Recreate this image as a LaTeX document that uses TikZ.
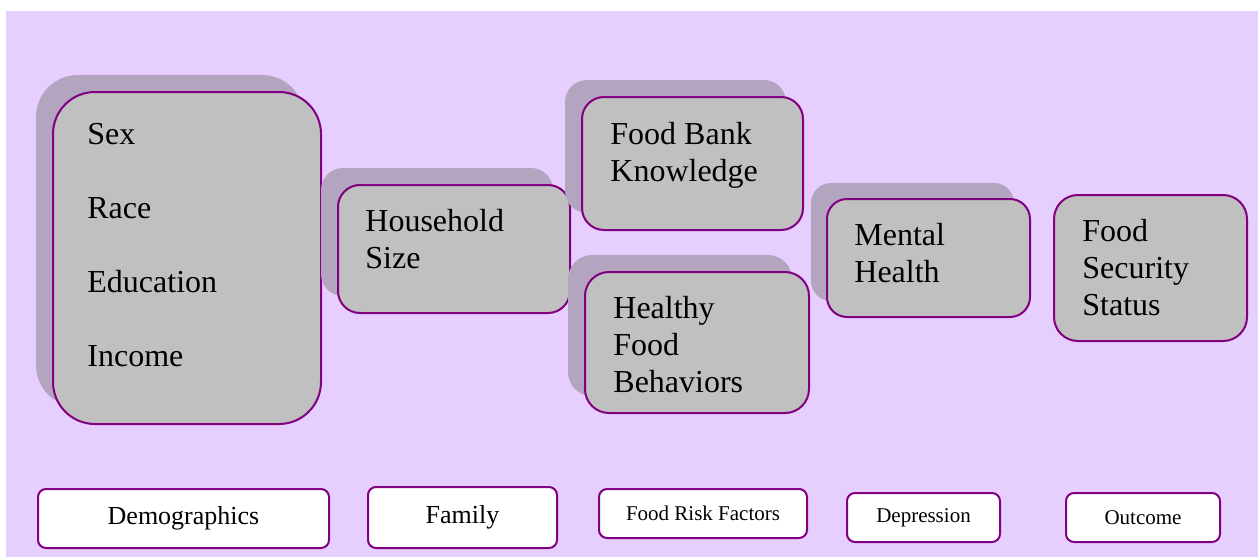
\documentclass[tikz,border=0pt]{standalone}
\usepackage{fontspec}
\setmainfont{Liberation Serif}
\usetikzlibrary{shadows}

\definecolor{lavender}{RGB}{230,206,255}
\definecolor{boxgray}{RGB}{192,192,192}
\definecolor{shadowgray}{RGB}{179,165,192}
\definecolor{plum}{RGB}{128,0,128}

\tikzset{
  factor/.style={draw=plum, line width=1pt, fill=boxgray, rounded corners=11pt, inner sep=0pt},
  shadowed/.style={general shadow={fill=shadowgray, shadow xshift=-8.5pt, shadow yshift=8.5pt}},
  % base anchor of a multi-line node sits on its last line
  factortext/.style={anchor=base west, align=left, inner sep=0pt, font=\fontsize{16}{18.35}\selectfont},
  stage/.style={draw=plum, line width=1pt, fill=white, rounded corners=4pt, inner sep=0pt},
}

\begin{document}
\begin{tikzpicture}[x=0.5pt, y=-0.5pt]
\useasboundingbox (0,0) rectangle (1258,557);
\fill[lavender] (6,11) rectangle (1258,557);

% factor boxes
\node[factor, shadowed, rounded corners=21pt, minimum width=134pt, minimum height=166pt] (demo) at (187,258) {};
\node[factor, shadowed, minimum width=116pt, minimum height=64pt] (house) at (454,249) {};
\node[factor, shadowed, minimum width=110.5pt, minimum height=66.5pt] (bank) at (692.5,163.5) {};
\node[factor, shadowed, rounded corners=12pt, minimum width=112pt, minimum height=70.5pt] (healthy) at (697,342.5) {};
\node[factor, general shadow={fill=shadowgray, shadow xshift=-8pt, shadow yshift=8pt}, rounded corners=10pt, minimum width=101.5pt, minimum height=59pt] (mental) at (928.5,258) {};
\node[factor, rounded corners=12pt, minimum width=96.5pt, minimum height=73pt] (secure) at (1150.5,268) {};

% texts in the boxes
\node[factortext] (sex) at (87,144) {Sex};
\node[factortext] (race) at (87,218) {Race};
\node[factortext] (edu) at (87,292) {Education};
\node[factortext] (income) at (87,366) {Income};
\node[factortext] (housetext) at (365,268) {Household\\Size};
\node[factortext] (banktext) at (610,181) {Food Bank\\Knowledge};
\node[factortext] (healthytext) at (613,392) {Healthy\\Food\\Behaviors};
\node[factortext] (mentaltext) at (854,282) {Mental\\Health};
\node[factortext] (securetext) at (1082,315) {Food\\Security\\Status};

% stage labels
\node[stage, minimum width=145.5pt, minimum height=29.5pt, font=\fontsize{13}{15}\selectfont] (demolabel) at (183.5,518.5) {Demographics};
\node[stage, minimum width=94.5pt, minimum height=30.5pt, font=\fontsize{13}{15}\selectfont] (familylabel) at (462.5,517.5) {Family};
\node[stage, minimum width=104pt, minimum height=24.5pt, font=\fontsize{10.5}{12}\selectfont] (risklabel) at (703,513.5) {Food Risk Factors};
\node[stage, minimum width=76.5pt, minimum height=24.5pt, font=\fontsize{10.5}{12}\selectfont] (deplabel) at (923.5,517.5) {Depression};
\node[stage, minimum width=77pt, minimum height=24.5pt, font=\fontsize{10.5}{12}\selectfont] (outlabel) at (1143,517.5) {Outcome};
\end{tikzpicture}
\end{document}
